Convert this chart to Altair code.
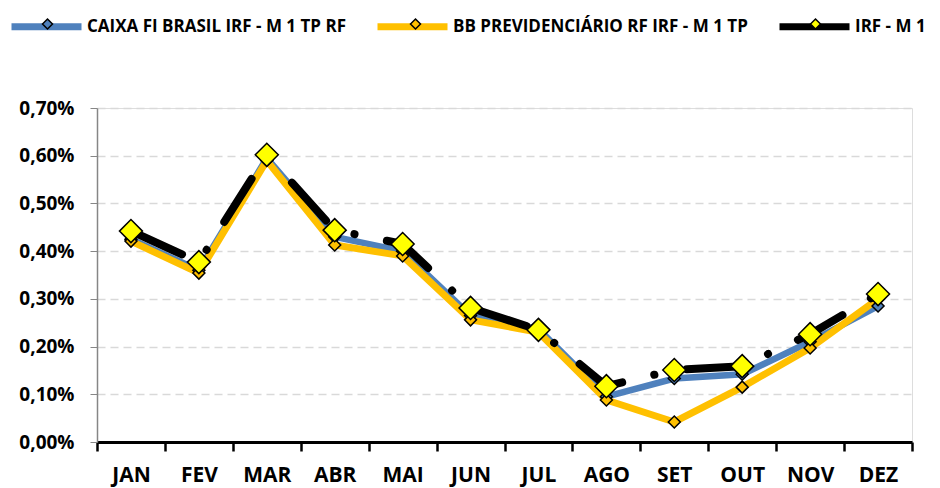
import altair as alt
import pandas as pd

months = ["JAN", "FEV", "MAR", "ABR", "MAI", "JUN", "JUL", "AGO", "SET", "OUT", "NOV", "DEZ"]
series_names = ["CAIXA FI BRASIL IRF - M 1 TP RF", "BB PREVIDENCIÁRIO RF IRF - M 1 TP", "IRF - M 1"]
caixa = [0.425, 0.360, 0.595, 0.430, 0.400, 0.265, 0.237, 0.095, 0.133, 0.142, 0.210, 0.285]
bb = [0.421, 0.354, 0.590, 0.413, 0.390, 0.256, 0.230, 0.088, 0.042, 0.115, 0.197, 0.300]
irf = [0.442, 0.377, 0.602, 0.444, 0.415, 0.281, 0.235, 0.117, 0.151, 0.159, 0.226, 0.310]
y_ticks = [0.0, 0.1, 0.2, 0.3, 0.4, 0.5, 0.6, 0.7]
line_colors = ["#4f81bd", "#ffc000", "#000000"]
marker_fills = ["#4f81bd", "#ffc000", "#ffff00"]
marker_sizes = [144, 144, 530]

rows = []
for name, vals in zip(series_names, [caixa, bb, irf]):
    for m, v in zip(months, vals):
        rows.append({"month": m, "series": name, "marker": name + " ", "value": v})
df = pd.DataFrame(rows)

FONT = "Open Sans"
LEG_FS = 17
SYM_LEN = 70
DIA_W = 10
# horizontal legend-symbol offsets (relative to plot origin) for the marker diamonds
dia_x = [-55.5, 312.5, 712.5]

x_enc = alt.X(
    "month:N", sort=months,
    scale=alt.Scale(type="band", paddingInner=0, paddingOuter=0),
    axis=alt.Axis(title=None, labelAngle=0, domainColor="black", domainWidth=3,
                  tickColor="black", tickWidth=2.5, tickSize=9, tickBand="extent",
                  labelFont=FONT, labelFontSize=21, labelFontWeight="bold",
                  labelColor="black", labelPadding=13, grid=False),
)
y_enc = alt.Y(
    "value:Q",
    scale=alt.Scale(domain=[0, 0.7], nice=False, zero=True),
    axis=alt.Axis(title=None, values=y_ticks,
                  labelExpr="replace(format(datum.value, '.2f'), '.', ',') + '%'",
                  domainColor="#868686", domainWidth=1.5, tickColor="#868686", tickSize=7,
                  gridColor="#d9d9d9", gridDash=[8, 5], gridWidth=1.5,
                  labelFont=FONT, labelFontSize=19, labelFontWeight="bold",
                  labelColor="black", labelPadding=16),
)

color_scale = alt.Scale(domain=series_names, range=line_colors)
line_legend = alt.Legend(orient="none", legendX=-89, legendY=-120, direction="horizontal",
                         title=None, symbolType="stroke", symbolSize=SYM_LEN * SYM_LEN,
                         symbolStrokeWidth=7, labelFont=FONT, labelFontSize=LEG_FS,
                         labelFontWeight="bold", labelColor="black", labelLimit=0,
                         columnPadding=17, labelOffset=2)

base = alt.Chart(df)

def line_layer(name, width, **kw):
    return base.transform_filter(alt.datum.series == name).mark_line(
        strokeWidth=width, **kw
    ).encode(x=x_enc, y=y_enc,
             color=alt.Color("series:N", scale=color_scale, legend=line_legend))

l_caixa = line_layer(series_names[0], 6.5)
l_bb = line_layer(series_names[1], 7)
l_irf = line_layer(series_names[2], 8, strokeDash=[51, 33, 0.1, 33], strokeCap="round",
                   strokeDashOffset=112)

def pt_layer(i):
    name = series_names[i]
    leg = alt.Legend(orient="none", legendX=dia_x[i], legendY=-90, title=None,
                     symbolType="diamond", symbolSize=DIA_W * DIA_W,
                     symbolStrokeColor="black", symbolStrokeWidth=1.5, symbolOpacity=1,
                     labelExpr="''", labelFontSize=8, labelOffset=0)
    return base.transform_filter(alt.datum.series == name).mark_point(
        shape="diamond", filled=True, size=marker_sizes[i], stroke="black",
        strokeWidth=1.5, opacity=1
    ).encode(x=x_enc, y=y_enc,
             fill=alt.Fill("marker:N",
                           scale=alt.Scale(domain=[name + " "], range=[marker_fills[i]]),
                           legend=leg))

chart = alt.layer(l_caixa, l_bb, l_irf, pt_layer(0), pt_layer(1), pt_layer(2)).resolve_scale(
    fill="independent"
).properties(
    width=815, height=334,
    autosize=alt.AutoSizeParams(type="none"),
    padding={"left": 89, "top": 100, "right": 20, "bottom": 46},
).configure_view(stroke=None).configure(background="white")

chart.save("out.html", embed_options={"renderer": "svg", "actions": False})
